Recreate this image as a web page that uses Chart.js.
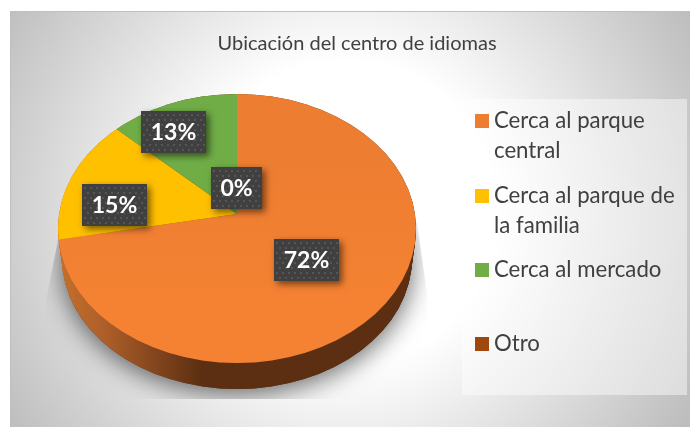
<!DOCTYPE html>
<html>
<head>
<meta charset="utf-8">
<title>Ubicación del centro de idiomas</title>
<script src="https://cdn.jsdelivr.net/npm/chart.js@4"></script>
<style>
    body { margin: 0; background: #fff; }
    canvas { display: block; }
</style>
</head>
<body>
<canvas id="pie" width="690" height="427"></canvas>
<script>
const chartTitle = 'Ubicación del centro de idiomas';
const categories = ['Cerca al parque central', 'Cerca al parque de la familia', 'Cerca al mercado', 'Otro'];
const legendLines = [['Cerca al parque', 'central'], ['Cerca al parque de', 'la familia'], ['Cerca al mercado'], ['Otro']];
const percents = [72, 15, 13, 0];
const colors = ['#ed7d31', '#ffc000', '#70ad47', '#9e480e'];

// how the tilted disc sits on the page
const tiltY = 0.751;
const apexY = 214;
const topFace = { x: 237, y: 228.5, rx: 179, ry: 134.5 };
const bottomFace = { x: 237, y: 258, rx: 175, ry: 131 };
// the labels do not sit on the middle of the slice, so push them by hand
const labelNudge = [[-7.5, -2], [-26, 11.5], [-23.5, -13], [0, 49.5]];
const legendRows = [114, 189, 263, 337];

const font = 'Lato, Carlito, sans-serif';

function ellipsePath(ctx, e) {
    ctx.beginPath();
    ctx.ellipse(e.x, e.y, e.rx, e.ry, 0, 0, Math.PI * 2);
}

const pieDecor = {
    id: 'pieDecor',
    beforeDraw(chart) {
        const ctx = chart.ctx;
        ctx.save();
        ctx.fillStyle = '#fff';
        ctx.fillRect(0, 0, 690, 427);
        let bg = ctx.createRadialGradient(345, 213, 0, 345, 213, 400);
        bg.addColorStop(0, '#ffffff');
        bg.addColorStop(0.38, '#ffffff');
        bg.addColorStop(1, '#bdbdbd');
        ctx.fillStyle = bg;
        ctx.fillRect(10, 11, 680, 416);
        ctx.fillStyle = '#bfbfbf';
        ctx.fillRect(10, 11, 680, 1);
        ctx.fillRect(10, 11, 1, 416);

        // title
        ctx.fillStyle = '#404040';
        ctx.font = '20px ' + font;
        ctx.textAlign = 'center';
        ctx.textBaseline = 'middle';
        ctx.fillText(chartTitle, 357, 44);

        // legend box
        ctx.fillStyle = 'rgba(255,255,255,0.45)';
        ctx.fillRect(462, 99, 225, 296);
        ctx.textAlign = 'left';
        ctx.font = '22.2px ' + font;
        for (let i = 0; i < categories.length; i++) {
            ctx.fillStyle = colors[i];
            ctx.fillRect(475, legendRows[i], 14, 14);
            ctx.fillStyle = '#404040';
            for (let j = 0; j < legendLines[i].length; j++) {
                ctx.fillText(legendLines[i][j], 494, legendRows[i] + 7 + j * 30);
            }
        }
        ctx.restore();
    },
    beforeDatasetsDraw(chart) {
        const ctx = chart.ctx;
        const center = chart.getDatasetMeta(0).data[0];

        // soft shadow, cut off like the reference does
        ctx.save();
        ctx.beginPath();
        ctx.moveTo(58, 240);
        ctx.lineTo(46, 300);
        ctx.lineTo(46, 399);
        ctx.lineTo(427, 399);
        ctx.lineTo(427, 293);
        ctx.lineTo(417, 223);
        ctx.closePath();
        ctx.clip();
        ctx.shadowColor = 'rgba(0,0,0,0.6)';
        ctx.shadowBlur = 26;
        ctx.shadowOffsetY = 5;
        ctx.fillStyle = '#5c2e10';
        ellipsePath(ctx, bottomFace);
        ctx.fill();
        ctx.restore();

        // side of the disc
        ctx.save();
        let side = ctx.createLinearGradient(58, 0, 416, 0);
        side.addColorStop(0, '#c4702c');
        side.addColorStop(0.12, '#b0602a');
        side.addColorStop(0.4, '#5c2f12');
        side.addColorStop(1, '#5c2f12');
        ctx.fillStyle = side;
        for (let k = 0; k <= 30; k++) {
            const f = k / 30;
            ellipsePath(ctx, {
                x: topFace.x,
                y: topFace.y + (bottomFace.y - topFace.y) * f,
                rx: topFace.rx + (bottomFace.rx - topFace.rx) * f,
                ry: topFace.ry + (bottomFace.ry - topFace.ry) * f
            });
            ctx.fill();
        }
        ctx.restore();

        // the slices come from the library, squeezed and cut to the top face
        ctx.save();
        ellipsePath(ctx, topFace);
        ctx.clip();
        ctx.translate(0, apexY);
        ctx.scale(1, tiltY);
        ctx.translate(0, -center.y);
    },
    afterDatasetsDraw(chart) {
        chart.ctx.restore();
    },
    afterDraw(chart) {
        const ctx = chart.ctx;
        const sum = percents.reduce((a, b) => a + b, 0);
        const arcs = chart.getDatasetMeta(0).data;
        ctx.save();
        ctx.font = 'bold 23px ' + font;
        ctx.textAlign = 'center';
        ctx.textBaseline = 'middle';
        for (let i = 0; i < arcs.length; i++) {
            const text = Math.round(percents[i] / sum * 100) + '%';
            const pos = arcs[i].tooltipPosition();
            const cx = pos.x + labelNudge[i][0];
            const cy = apexY + (pos.y - arcs[i].y) * tiltY + labelNudge[i][1];
            const w = Math.round(ctx.measureText(text).width) + 19;
            const h = 42;
            const x = Math.round(cx - w / 2);
            const y = Math.round(cy - h / 2);

            ctx.save();
            ctx.shadowColor = 'rgba(0,0,0,0.55)';
            ctx.shadowBlur = 7;
            ctx.shadowOffsetX = 3;
            ctx.shadowOffsetY = 3;
            ctx.fillStyle = '#404040';
            ctx.fillRect(x, y, w, h);
            ctx.restore();

            ctx.fillStyle = '#565656';
            for (let row = 0; row * 5 + 3 < h; row++) {
                for (let col = row % 2 ? 5 : 2; col < w - 1; col += 6) {
                    ctx.fillRect(x + col, y + 3 + row * 5, 2, 2);
                }
            }
            ctx.fillStyle = '#fff';
            ctx.fillText(text, x + w / 2, y + h / 2 + 1);
        }
        ctx.restore();
    }
};

const pieCtx = document.getElementById('pie').getContext('2d');
// big slice gets a little lighter towards the front
const frontFade = pieCtx.createLinearGradient(0, 13, 0, 413);
frontFade.addColorStop(0.3, colors[0]);
frontFade.addColorStop(0.8, '#f58233');

new Chart(pieCtx, {
    type: 'pie',
    data: {
        labels: categories,
        datasets: [{
            data: percents,
            backgroundColor: [frontFade, colors[1], colors[2], colors[3]],
            borderWidth: 0
        }]
    },
    options: {
        responsive: false,
        animation: false,
        layout: { padding: { left: 37, right: 253, top: 13, bottom: 14 } },
        plugins: {
            legend: { display: false },
            title: { display: false },
            tooltip: { enabled: false }
        }
    },
    plugins: [pieDecor]
});
</script>
</body>
</html>
